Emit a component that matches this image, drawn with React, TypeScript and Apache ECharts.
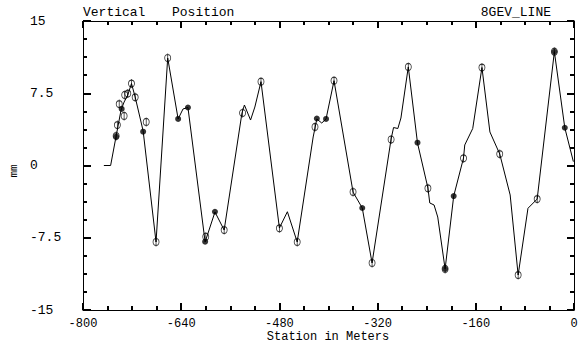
import React, { useEffect, useRef } from "react";
import * as echarts from "echarts";

// Fitted orbit curve (station in m, vertical position in mm)
const lineStation = [
  -766, -755, -746, -738, -733, -727, -721, -715, -702, -681,
  -662, -645, -637, -629, -601, -585, -570, -541, -537, -527,
  -520, -510, -480, -467, -451, -425, -419, -411, -404, -391,
  -360, -345, -329, -298, -294, -287, -282, -270, -255, -238,
  -235, -228, -222, -210, -196, -180, -178, -165, -150, -137,
  -121, -104, -91, -75, -60, -32, -15, -1,
];
const lineValue = [
  0, 0, 3.06, 5.76, 6.59, 7.32, 8.51, 7.11, 3.58, -7.94,
  11.16, 4.83, 5.87, 6.02, -7.94, -4.83, -6.7, 5.45, 6.28, 4.72,
  6.07, 8.7, -6.49, -4.8, -7.94, 2.96, 4.83, 4.41, 4.83, 8.8,
  -2.76, -4.41, -10.12, 2.75, 3.94, 3.84, 4.93, 10.23, 2.34, -2.34,
  -3.89, -4.1, -5.35, -10.74, -3.17, 0.78, 2.13, 3.84, 10.17, 3.48,
  1.19, -3.06, -11.37, -4.44, -3.48, 11.81, 3.92, 0.4,
];

// Open monitor markers
const openStation = [
  -746, -744, -741, -733, -732, -727, -721, -715, -697, -681,
  -662, -600, -570, -540, -510, -480, -451, -422, -391, -360,
  -329, -298, -270, -238, -210, -180, -150, -121, -91, -60, -32,
];
const openValue = [
  3.06, 4.2, 6.38, 5.14, 7.32, 7.47, 8.51, 7.08, 4.52, -7.94,
  11.16, -7.39, -6.7, 5.45, 8.7, -6.52, -7.94, 4.0, 8.8, -2.75,
  -10.12, 2.7, 10.23, -2.37, -10.74, 0.75, 10.17, 1.19, -11.37, -3.48, 11.81,
];

// Filled monitor markers
const filledStation = [
  -746, -737, -702, -645, -629, -601, -585, -419, -404, -345,
  -255, -210, -196, -32, -15,
];
const filledValue = [
  3.01, 5.87, 3.51, 4.83, 6.02, -7.91, -4.8, 4.88, 4.83, -4.41,
  2.37, -10.74, -3.17, 11.81, 3.92,
];

const xMin = -800;
const xMax = 0;
const xInterval = 160;
const yMin = -15;
const yMax = 15;
const yInterval = 7.5;

const titleLeft = "Vertical";
const titleMid = "Position";
const titleRight = "8GEV_LINE";
const xName = "Station in Meters";
const yName = "mm";

const FONT = "'Liberation Mono', 'DejaVu Sans Mono', monospace";
const openSymbol =
  "path://M0,4.5 A3,3.5 0 1,0 6,4.5 A3,3.5 0 1,0 0,4.5 Z M3,0 L3,9";

function zip(a: number[], b: number[]) {
  return a.map((v, i) => [v, b[i]]);
}

export default function App() {
  const ref = useRef<HTMLDivElement>(null);
  useEffect(() => {
    if (!ref.current) return;
    const chart = echarts.init(ref.current, undefined, { renderer: "svg" });
    const label = { color: "#000", fontFamily: FONT, fontSize: 12 };
    const line = () => ({ show: true, onZero: false, lineStyle: { color: "#000", width: 1 } });
    const tick = (len: number) => ({
      show: true, inside: true, length: len, lineStyle: { color: "#000", width: 2 },
    });
    const minor = () => ({
      show: true, splitNumber: 4, length: 4, lineStyle: { color: "#000", width: 2 },
    });
    chart.setOption({
      animation: false,
      backgroundColor: "#fff",
      grid: { left: 83, right: 4, top: 21, bottom: 33, containLabel: false, outerBoundsMode: "none" },
      xAxis: [
        {
          type: "value", position: "bottom", min: xMin, max: xMax, interval: xInterval,
          axisLine: line(), axisTick: tick(7), minorTick: minor(), splitLine: { show: false },
          axisLabel: { ...label, margin: 8 },
        },
        {
          type: "value", position: "top", min: xMin, max: xMax, interval: xInterval,
          axisLine: line(), axisTick: tick(7), minorTick: minor(), splitLine: { show: false },
          axisLabel: { show: false },
        },
      ],
      yAxis: [
        {
          type: "value", position: "left", min: yMin, max: yMax, interval: yInterval,
          axisLine: line(), axisTick: tick(8), minorTick: minor(), splitLine: { show: false },
          axisLabel: { ...label, fontSize: 13, align: "left", margin: 53 },
        },
        {
          type: "value", position: "right", min: yMin, max: yMax, interval: yInterval,
          axisLine: line(), axisTick: tick(7), minorTick: minor(), splitLine: { show: false },
          axisLabel: { show: false },
        },
      ],
      graphic: [
        { type: "text", left: 83, top: 6, style: { text: titleLeft, font: `13px ${FONT}`, fill: "#000" } },
        { type: "text", left: 172, top: 6, style: { text: titleMid, font: `13px ${FONT}`, fill: "#000" } },
        { type: "text", right: 27, top: 6, style: { text: titleRight, font: `13px ${FONT}`, fill: "#000" } },
        {
          type: "text", x: 328, y: 337,
          style: { text: xName, font: `12px ${FONT}`, fill: "#000", align: "center", verticalAlign: "middle" },
        },
        {
          type: "text", x: 14, y: 171, rotation: Math.PI / 2,
          style: { text: yName, font: `11px ${FONT}`, fill: "#000", align: "center", verticalAlign: "middle" },
        },
      ],
      series: [
        {
          type: "line", data: zip(lineStation, lineValue),
          showSymbol: false, symbol: "none", lineStyle: { color: "#000", width: 1 }, z: 2, silent: true,
        },
        {
          type: "scatter", data: zip(openStation, openValue),
          symbol: openSymbol, symbolSize: [6, 9],
          itemStyle: { color: "rgba(0,0,0,0)", borderColor: "#000", borderWidth: 1 }, z: 3, silent: true,
        },
        {
          type: "scatter", data: zip(filledStation, filledValue),
          symbol: "circle", symbolSize: 6, itemStyle: { color: "#000" }, z: 4, silent: true,
        },
      ],
    });
    return () => chart.dispose();
  }, []);
  return (
    <div
      ref={ref}
      style={{ position: "fixed", left: 0, top: 0, width: 578, height: 343, background: "#fff" }}
    />
  );
}
